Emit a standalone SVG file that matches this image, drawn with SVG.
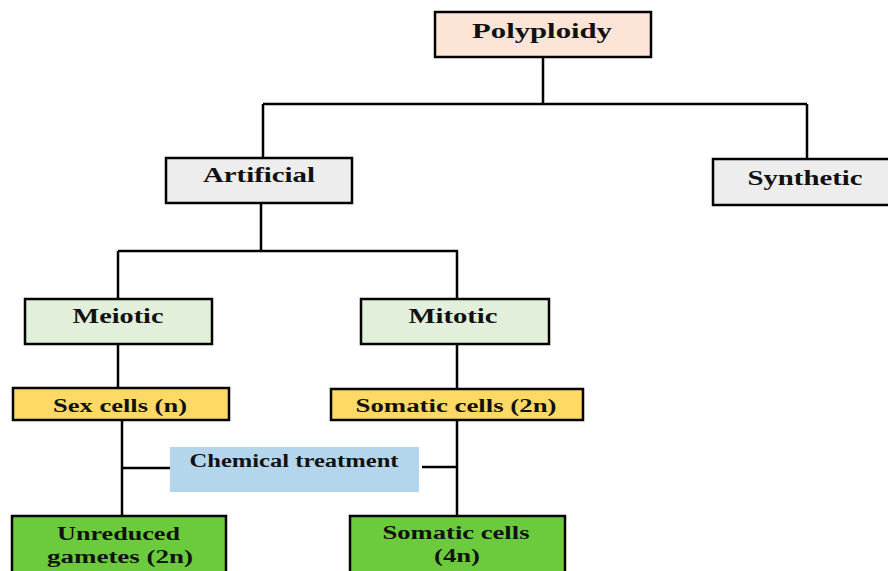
<svg xmlns="http://www.w3.org/2000/svg" width="888" height="571" viewBox="0 0 888 571">
<style>
.box{stroke:#000;stroke-width:2.5}
.t{font-family:"Liberation Serif","Times New Roman",serif;font-weight:bold;fill:#111;text-anchor:middle}
.big{font-size:21px}
.mid{font-size:18px}
.ln{stroke:#000;stroke-width:2.5;fill:none}
</style>
<rect width="888" height="571" fill="#fff"/>
<g id="connectors">
<path class="ln" d="M543 57V104M263 104H807M263 104V158M807 104V158"/>
<path class="ln" d="M261 203V251M118 251H458M118 251V299M457 251V299"/>
<path class="ln" d="M118 344V388M457 344V389"/>
<path class="ln" d="M122 420V516M122 468H170M457 420V516M422 467H457"/>
</g>
<g id="polyploidy"><rect class="box" x="435" y="12" width="216" height="45" fill="#FCE4D6"/><text class="t big" x="542" y="38" textLength="140" lengthAdjust="spacingAndGlyphs">Polyploidy</text></g>
<g id="artificial"><rect class="box" x="166" y="158" width="186" height="45" fill="#EDEDED"/><text class="t big" x="259" y="182" textLength="112" lengthAdjust="spacingAndGlyphs">Artificial</text></g>
<g id="synthetic"><rect class="box" x="713" y="159" width="185" height="46" fill="#EDEDED"/><text class="t big" x="805" y="185" textLength="115" lengthAdjust="spacingAndGlyphs">Synthetic</text></g>
<g id="meiotic"><rect class="box" x="25" y="299" width="187" height="45" fill="#E2EFDA"/><text class="t big" x="118" y="323" textLength="91" lengthAdjust="spacingAndGlyphs">Meiotic</text></g>
<g id="mitotic"><rect class="box" x="361" y="299" width="188" height="45" fill="#E2EFDA"/><text class="t big" x="453" y="323" textLength="89" lengthAdjust="spacingAndGlyphs">Mitotic</text></g>
<g id="sexcells"><rect class="box" x="13" y="388" width="216" height="32" fill="#FFD966"/><text class="t mid" x="120" y="412" textLength="134" lengthAdjust="spacingAndGlyphs">Sex cells (n)</text></g>
<g id="somatic2n"><rect class="box" x="331" y="389" width="252" height="31" fill="#FFD966"/><text class="t mid" x="456" y="412" textLength="201" lengthAdjust="spacingAndGlyphs">Somatic cells (2n)</text></g>
<g id="chemical"><rect x="170" y="447" width="249" height="45" fill="#B4D6EC"/><text class="t mid" x="294" y="467" textLength="209" lengthAdjust="spacingAndGlyphs">Chemical treatment</text></g>
<g id="unreduced"><rect class="box" x="12" y="516" width="214" height="70" fill="#6CCB3C"/><text class="t mid" x="118.5" y="540" textLength="123" lengthAdjust="spacingAndGlyphs">Unreduced</text><text class="t mid" x="120" y="563" textLength="146" lengthAdjust="spacingAndGlyphs">gametes (2n)</text></g>
<g id="somatic4n"><rect class="box" x="350" y="516" width="215" height="70" fill="#6CCB3C"/><text class="t mid" x="456" y="539" textLength="147" lengthAdjust="spacingAndGlyphs">Somatic cells</text><text class="t mid" x="457" y="562" textLength="46" lengthAdjust="spacingAndGlyphs">(4n)</text></g>
</svg>
